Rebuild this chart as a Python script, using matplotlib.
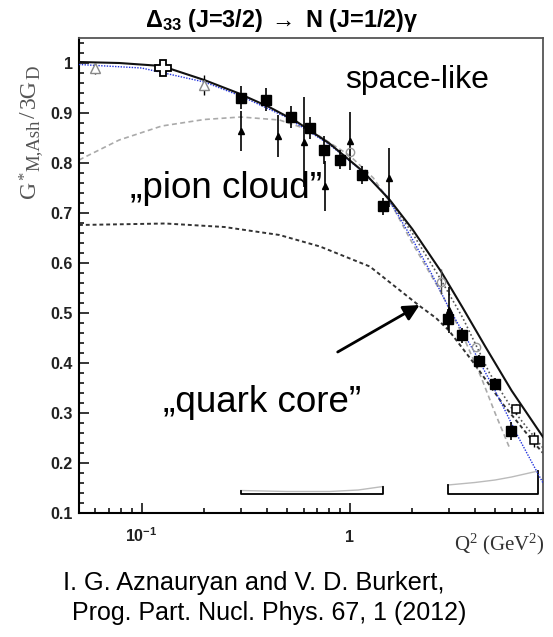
import matplotlib
matplotlib.use("Agg")
import matplotlib.pyplot as plt
from matplotlib.ticker import FixedLocator, FixedFormatter, MultipleLocator, FuncFormatter

plt.rcParams.update({
    "font.family": ["Liberation Sans", "DejaVu Sans"],
    "mathtext.fontset": "custom",
    "mathtext.rm": "Liberation Serif",
    "mathtext.it": "Liberation Serif:italic",
    "mathtext.bf": "Liberation Serif:bold",
    "mathtext.sf": "Liberation Sans:bold",
})

# ---- measured form factor (filled squares) ----
q2_sq = [0.302, 0.398, 0.52, 0.647, 0.75, 0.895, 1.151, 1.446, 2.97, 3.48, 4.19, 5.0, 5.99]
g_sq = [0.931, 0.927, 0.893, 0.871, 0.827, 0.807, 0.777, 0.714, 0.489, 0.456, 0.405, 0.359, 0.265]
e_sq = [0.022, 0.022, 0.022, 0.022, 0.028, 0.018, 0.018, 0.017, 0.02, 0.015, 0.012, 0.012, 0.018]

# small filled triangles
q2_tri = [0.302, 0.452, 0.601, 0.765, 1.0, 1.54, 3.0]
g_tri = [0.864, 0.855, 0.842, 0.755, 0.845, 0.771, 0.506]
e_tri = [0.04, 0.042, 0.09, 0.05, 0.058, 0.06, 0.046]

# open triangles at low Q^2
q2_otri = [0.0594, 0.199]
g_otri = [0.99, 0.957]
e_otri = [0.012, 0.02]

# real-photon point (open cross)
q2_cross = [0.126]
g_cross = [0.99]
e_cross = [0.005]

# open squares at high Q^2
q2_osq = [6.33, 7.67]
g_osq = [0.309, 0.247]
e_osq = [0.01, 0.015]

# grey open circles
q2_circ = [1.0, 2.76, 4.03]
g_circ = [0.823, 0.563, 0.433]
e_circ = [0.0, 0.025, 0.0]

# ---- model curves ----
full_q2 = [0.05, 0.078, 0.125, 0.2, 0.29, 0.41, 0.55, 0.8, 1.16, 1.56, 2.0, 2.76, 3.5, 4.5, 6.0, 8.5]
full_g = [1.002, 1.0, 0.994, 0.966, 0.94, 0.912, 0.884, 0.839, 0.783, 0.726, 0.668, 0.582, 0.51, 0.432, 0.345, 0.252]

blue_q2 = [0.05, 0.1, 0.2, 0.3, 0.5, 0.8, 1.16, 1.5, 2.0, 2.5, 3.0, 4.0, 5.0, 6.5, 8.5]
blue_g = [0.997, 0.99, 0.962, 0.934, 0.891, 0.837, 0.782, 0.735, 0.648, 0.575, 0.51, 0.42, 0.345, 0.25, 0.16]

core_q2 = [0.05, 0.13, 0.25, 0.46, 0.72, 1.25, 2.17, 2.6, 3.0, 4.0, 5.45, 7.9, 8.5]
core_g = [0.676, 0.679, 0.672, 0.656, 0.633, 0.593, 0.514, 0.49, 0.465, 0.397, 0.318, 0.235, 0.22]

cloud_q2 = [0.05, 0.078, 0.125, 0.2, 0.3, 0.46, 0.65, 1.0, 1.3, 1.6, 2.0, 2.76, 3.5, 4.3, 5.0, 5.9]
cloud_g = [0.806, 0.846, 0.874, 0.887, 0.892, 0.886, 0.865, 0.815, 0.77, 0.715, 0.64, 0.54, 0.455, 0.37, 0.3, 0.228]

dot_q2 = [1.5, 2.0, 2.76, 3.5, 4.7, 6.0, 7.3, 8.5]
dot_g = [0.735, 0.66, 0.565, 0.49, 0.38, 0.31, 0.265, 0.23]

# ---- systematic uncertainty bands ----
band_base = 0.138
band1_q2 = [0.3, 0.5, 0.8, 1.1, 1.446]
band1_top = [0.145, 0.143, 0.143, 0.146, 0.153]
band2_q2 = [2.97, 4.0, 5.0, 6.0, 8.05]
band2_top = [0.156, 0.161, 0.166, 0.172, 0.184]

x_major = [0.1, 1.0]
x_major_labels = [r"$\mathsf{10^{-1}}$", r"$\mathsf{1}$"]
x_minor = [0.06, 0.07, 0.08, 0.09, 0.2, 0.3, 0.4, 0.5, 0.6, 0.7, 0.8, 0.9,
           2, 3, 4, 5, 6, 7, 8]

# y-axis title pieces: (text, size, baseline shift in px, gap after in px)
ylabel_parts = [("G", 17, 0, 0.5), ("*", 12, -6, 0.5), ("M,Ash", 13.5, 4, 2.5),
                ("/", 17, 0, 2.5), ("3G", 17, 0, 0.5), ("D", 13.5, 4, 0)]

W, H = 553, 637
fig = plt.figure(figsize=(W / 100, H / 100), dpi=100)
ax = fig.add_axes([79 / W, 1 - 513 / H, 464 / W, 475 / H])
ax.set_xscale("log")
ax.set_xlim(0.05, 8.5)
ax.set_ylim(0.1, 1.05)

# curves
ax.plot(cloud_q2, cloud_g, color="#aaaaaa", lw=1.2, ls=(0, (3, 2)), zorder=2)
ax.plot(core_q2, core_g, color="#333333", lw=1.4, ls=(0, (2, 1.5)), zorder=2)
ax.plot(dot_q2, dot_g, color="#555555", lw=1.2, ls=(0, (1, 1.5)), zorder=2)
ax.plot(blue_q2, blue_g, color="#2233dd", lw=1.0, ls=(0, (1, 1)), zorder=3)
ax.plot(full_q2, full_g, color="#111111", lw=1.5, zorder=3)

# bands
for bq, bt in ((band1_q2, band1_top), (band2_q2, band2_top)):
    ax.plot(bq, bt, color="#bbbbbb", lw=1.0, zorder=2)
    ax.plot([bq[0], bq[0], bq[-1], bq[-1]], [bt[0], band_base, band_base, bt[-1]],
            color="black", lw=1.3, zorder=2)

# data
ax.errorbar(q2_tri, g_tri, yerr=e_tri, fmt="^", ms=4, color="black",
            elinewidth=1.2, capsize=0, zorder=4)
ax.errorbar(q2_otri, g_otri, yerr=e_otri, fmt="^", ms=7, mfc="white", mec="#888888",
            ecolor="black", elinewidth=1.0, capsize=0, zorder=5)
ax.errorbar(q2_circ, g_circ, yerr=e_circ, fmt="o", ms=6, mfc="none", mec="#999999",
            ecolor="#444444", elinewidth=1.0, capsize=0, zorder=4)
ax.errorbar(q2_sq, g_sq, yerr=e_sq, fmt="s", ms=6.8, color="black",
            elinewidth=1.2, capsize=0, zorder=6)
ax.errorbar(q2_osq, g_osq, yerr=e_osq, fmt="s", ms=6, mfc="white", mec="black",
            mew=1.1, ecolor="black", elinewidth=1.0, capsize=0, zorder=6)
ax.errorbar(q2_cross, g_cross, yerr=e_cross, fmt="P", ms=11, mfc="white", mec="black",
            mew=1.3, ecolor="black", capsize=0, zorder=6)

# axes styling
ax.xaxis.set_major_locator(FixedLocator(x_major))
ax.xaxis.set_major_formatter(FixedFormatter(x_major_labels))
ax.xaxis.set_minor_locator(FixedLocator(x_minor))
ax.xaxis.set_minor_formatter(FixedFormatter([""] * len(x_minor)))
ax.yaxis.set_major_locator(MultipleLocator(0.1))
ax.yaxis.set_minor_locator(MultipleLocator(0.02))
ax.yaxis.set_major_formatter(FuncFormatter(lambda v, p: "1" if abs(v - 1) < 1e-6 else f"{v:.1f}"))

ax.tick_params(which="both", direction="in", top=False, right=False, width=1.1, color="black")
ax.tick_params(which="major", length=7, labelsize=11.5, labelcolor="#222222")
ax.tick_params(which="minor", length=3.6)
ax.tick_params(axis="y", which="major", pad=4.5)
ax.tick_params(axis="x", which="major", pad=21)
for lab in ax.get_yticklabels():
    lab.set_fontweight("bold")
for lab in ax.get_xticklabels():
    lab.set_verticalalignment("baseline")

for side in ("left", "bottom"):
    ax.spines[side].set_linewidth(1.5)
    ax.spines[side].set_color("black")
for side in ("top", "right"):
    ax.spines[side].set_linewidth(1.3)
    ax.spines[side].set_color("#555555")

# title
fig.text(282 / W, 1 - 27 / H,
         r"$\mathsf{\Delta_{33}}$ (J=3/2) $\mathsf{\rightarrow}$ N (J=1/2)$\mathsf{\gamma}$",
         ha="center", va="baseline", fontsize=16.8, fontweight="bold")

# y-axis title, laid out piece by piece along the rotated baseline
renderer = fig.canvas.get_renderer()
ypos = 198.0
for txt, size, shift, gap in ylabel_parts:
    t = fig.text((35 + shift) / W, 1 - ypos / H, txt, rotation=90, rotation_mode="anchor",
                 ha="left", va="baseline", fontsize=size, family="Liberation Serif",
                 color="#555555")
    ypos -= t.get_window_extent(renderer).height + gap

fig.text(545 / W, 1 - 550 / H, r"Q$^{2}$ (GeV$^{2}$)", ha="right", va="baseline",
         fontsize=15, family="Liberation Serif", color="#333333")

ax.text(0.573, 0.895, "space-like", transform=ax.transAxes, fontsize=23, va="baseline")
ax.text(0.110, 0.663, "\u201epion cloud\u201d", transform=ax.transAxes, fontsize=26.5, va="baseline")
ax.text(0.181, 0.213, "\u201equark core\u201d", transform=ax.transAxes, fontsize=26.5, va="baseline")
ax.annotate("", xy=(2.17, 0.516), xytext=(0.876, 0.422),
            arrowprops=dict(arrowstyle="-|>", lw=2.0, color="black", mutation_scale=24,
                            shrinkA=0, shrinkB=0))

fig.text(63 / W, 1 - 590 / H, "I. G. Aznauryan and V. D. Burkert,",
         ha="left", va="baseline", fontsize=18.3)
fig.text(72 / W, 1 - 620 / H, "Prog. Part. Nucl. Phys. 67, 1 (2012)",
         ha="left", va="baseline", fontsize=18)

fig.savefig("out.png", dpi=100)
